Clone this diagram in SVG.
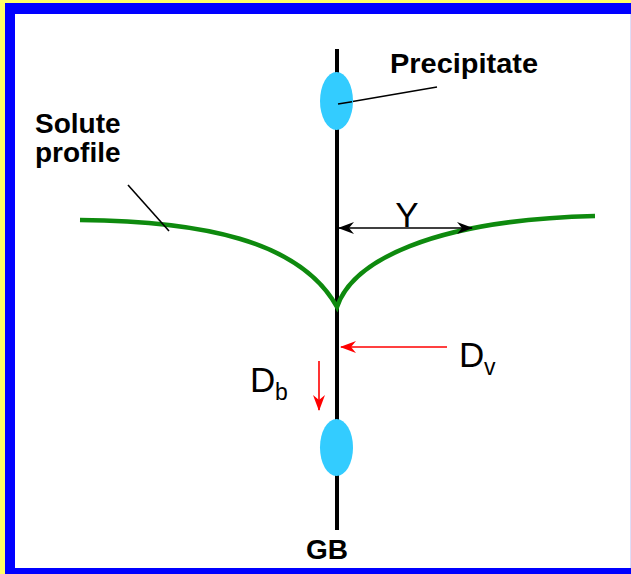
<svg xmlns="http://www.w3.org/2000/svg" width="631" height="574" viewBox="0 0 631 574">
<style>
.lbl{font-family:"Liberation Sans",Arial,sans-serif;font-weight:bold;font-size:28px;fill:#000}
.sym{font-family:"Liberation Sans",Arial,sans-serif;font-size:35px;fill:#000}
.sub{font-family:"Liberation Sans",Arial,sans-serif;font-size:23px;fill:#000}
.blk{stroke:#000;fill:none}
.red{stroke:#ff0000;stroke-width:1.6;fill:none}
.ppt{fill:#33ccff}
</style>
<defs>
<marker id="ak" viewBox="0 0 16 12" refX="15" refY="6" markerWidth="16" markerHeight="12" markerUnits="userSpaceOnUse" orient="auto-start-reverse">
<path d="M0,0 L16,6 L0,12 L5,6 Z" fill="#000"/>
</marker>
<marker id="ar" viewBox="0 0 16 12" refX="15" refY="6" markerWidth="16" markerHeight="12" markerUnits="userSpaceOnUse" orient="auto">
<path d="M0,0 L16,6 L0,12 L5,6 Z" fill="#ff0000"/>
</marker>
</defs>
<rect x="0" y="0" width="631" height="574" fill="#ffff66"/>
<rect x="5" y="3" width="640" height="580" fill="#0000ff"/>
<rect x="15" y="14" width="615" height="554" fill="#ffffff"/>
<line x1="630.5" y1="14" x2="630.5" y2="568" stroke="#ddddf8" stroke-width="1"/>

<g id="connectors">
<line id="gb-line" class="blk" x1="337" y1="49" x2="337" y2="530" stroke-width="4"/>
<path id="solute-curve" d="M80,220 C200,221 300,240 337,307 C352,262 430,220 595,216" stroke="#0e8a0e" stroke-width="4.5" fill="none"/>
<line id="precip-leader" class="blk" x1="338" y1="104" x2="437" y2="87" stroke-width="1.6"/>
<line id="solute-leader" class="blk" x1="128" y1="185" x2="169" y2="231" stroke-width="1.6"/>
<line id="y-arrow" class="blk" x1="339" y1="228" x2="472" y2="228" stroke-width="1.6" marker-start="url(#ak)" marker-end="url(#ak)"/>
<line id="dv-arrow" class="red" x1="447" y1="347" x2="341" y2="347" marker-end="url(#ar)"/>
<line id="db-arrow" class="red" x1="319" y1="361" x2="319" y2="410" marker-end="url(#ar)"/>
</g>

<g id="precipitate-top">
<ellipse class="ppt" cx="336.5" cy="101" rx="16.5" ry="29"/>
</g>
<g id="precipitate-bottom">
<ellipse class="ppt" cx="336.5" cy="447.5" rx="16.5" ry="28.5"/>
</g>
<line x1="338" y1="104" x2="352" y2="101.7" stroke="#000" stroke-width="1.6"/>

<g id="label-precipitate">
<text class="lbl" x="390" y="73" textLength="148" lengthAdjust="spacingAndGlyphs">Precipitate</text>
</g>
<g id="label-solute">
<text class="lbl" x="35" y="133">Solute</text>
<text class="lbl" x="35" y="162">profile</text>
</g>
<g id="label-y">
<text class="sym" x="407" y="227" text-anchor="middle">Y</text>
</g>
<g id="label-dv">
<text class="sym" x="459" y="367">D</text><text class="sub" x="484" y="375">v</text>
</g>
<g id="label-db">
<text class="sym" x="250" y="392">D</text><text class="sub" x="275" y="400">b</text>
</g>
<g id="label-gb">
<text class="lbl" x="327" y="559" text-anchor="middle" font-size="25">GB</text>
</g>
</svg>
